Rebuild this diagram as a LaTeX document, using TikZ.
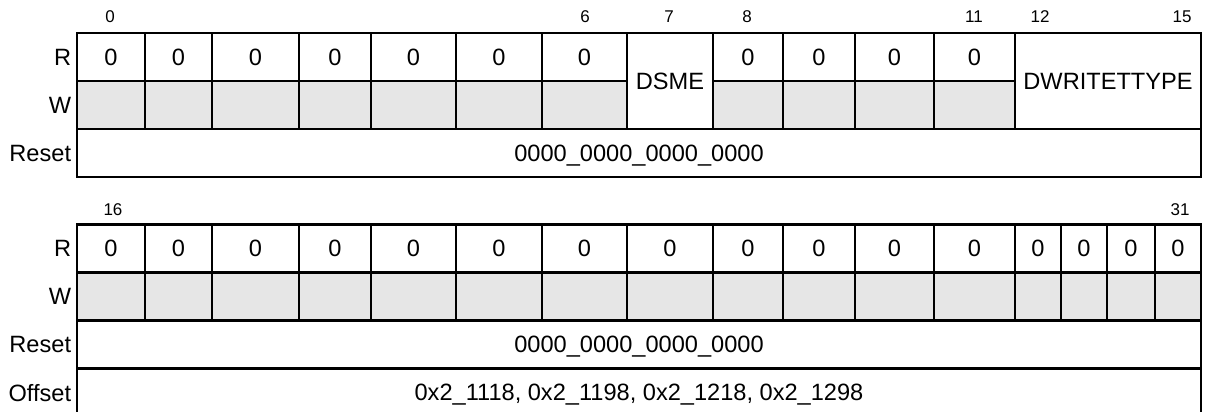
\documentclass[tikz,border=0pt]{standalone}
\usepackage{fontspec}
\setmainfont{Liberation Sans}
\usetikzlibrary{positioning}
\definecolor{wgrey}{RGB}{230,230,230}

\begin{document}
\begin{tikzpicture}[
    x=0.5pt, y=-0.5pt,
    font=\fontsize{11.8}{13}\selectfont,
    cell/.style={rectangle, draw=black, line width=1.1pt, inner sep=0pt,
        minimum height=24pt, text depth=0pt, fill=white},
    wcell/.style={cell, fill=wgrey},
    tallcell/.style={cell, minimum height=48pt},
    bitnum/.style={font=\fontsize{8.5}{10}\selectfont, inner sep=0pt},
    rowlabel/.style={inner sep=0pt, text depth=0pt}
]
\useasboundingbox (0,0) rectangle (1206,412);

% === BITS 0-15 ===
\foreach \xl/\xr [count=\i] in {77/145,145/212,212/299,299/371,371/456,456/542,542/627,
    713/783,783/855,855/934,934/1015} {
    \node[cell, minimum width={(\xr-\xl)*0.5pt}] (rTop\i) at ({(\xl+\xr)/2},57) {0};
    \node[wcell, minimum width={(\xr-\xl)*0.5pt}] (wTop\i) at ({(\xl+\xr)/2},105) {};
}
\node[tallcell, minimum width=43pt] (dsme) at (670,81) {DSME};
\node[tallcell, minimum width=93pt] (dwtype) at (1108,81) {DWRITETTYPE};
\node[cell, minimum width=562pt] (resetTop) at (639,153) {0000\_0000\_0000\_0000};

\node[rowlabel, left=2.2pt of rTop1] (lblRTop) {R};
\node[rowlabel, left=2.2pt of wTop1] (lblWTop) {W};
\node[rowlabel, left=2.2pt of resetTop] (lblResetTop) {Reset};

% bit numbers
\node[bitnum] (bit0) at (110,17) {0};
\node[bitnum] (bit6) at (585,17) {6};
\node[bitnum] (bit7) at (669,17) {7};
\node[bitnum] (bit8) at (747,17) {8};
\node[bitnum] (bit11) at (974,17) {11};
\node[bitnum] (bit12) at (1040,17) {12};
\node[bitnum] (bit15) at (1182,17) {15};

% === BITS 16-31 ===
\foreach \xl/\xr [count=\i] in {77/145,145/212,212/299,299/371,371/456,456/542,542/627,
    627/713,713/783,783/855,855/934,934/1015,1015/1061,1061/1107,1107/1155,1155/1201} {
    \node[cell, minimum width={(\xr-\xl)*0.5pt}] (rBot\i) at ({(\xl+\xr)/2},248.5) {0};
    \node[wcell, minimum width={(\xr-\xl)*0.5pt}] (wBot\i) at ({(\xl+\xr)/2},296.5) {};
}
\node[cell, minimum width=562pt] (resetBot) at (639,344.5) {0000\_0000\_0000\_0000};
\node[cell, minimum width=562pt] (offset) at (639,392.5) {0x2\_1118, 0x2\_1198, 0x2\_1218, 0x2\_1298};

\node[rowlabel, left=2.2pt of rBot1] (lblRBot) {R};
\node[rowlabel, left=2.2pt of wBot1] (lblWBot) {W};
\node[rowlabel, left=2.2pt of resetBot] (lblResetBot) {Reset};
\node[rowlabel, left=2.2pt of offset] (lblOffset) {Offset};

\node[bitnum] (bit16) at (113,210) {16};
\node[bitnum] (bit31) at (1180,210) {31};

\end{tikzpicture}
\end{document}
